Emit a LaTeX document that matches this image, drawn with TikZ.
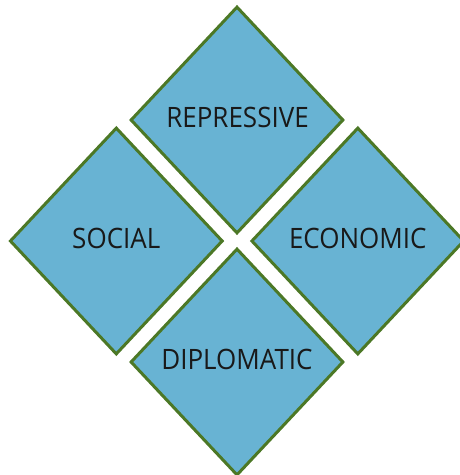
\documentclass[tikz,border=0pt]{standalone}
\usepackage{fontspec}
\setmainfont{Open Sans}
\usetikzlibrary{shapes.geometric}
\definecolor{dfill}{RGB}{104,179,211}
\definecolor{dline}{RGB}{76,120,38}
\newcommand{\tallcaps}[1]{\scalebox{1}[1.08]{#1}}
\begin{document}
\begin{tikzpicture}[x=1pt,y=-1pt,
  dia/.style={diamond, draw=dline, fill=dfill, line width=3pt,
    minimum width=213pt, minimum height=227pt, inner sep=0pt},
  lbl/.style={font=\fontsize{26}{30}\selectfont, inner sep=0pt, text=black!90}]
\useasboundingbox (0,0) rectangle (460,475);
\clip (0,0) rectangle (460,475);
\node[dia] (rep) at (237,120) {};
\node[dia] (soc) at (116.3,241) {};
\node[dia] (eco) at (357.8,241) {};
\node[dia] (dip) at (237,362) {};
\node[lbl] (reptext) at (237.5,117.3) {\tallcaps{REPRESSIVE}};
\node[lbl] (soctext) at (116.3,238) {\tallcaps{SOCIAL}};
\node[lbl] (ecotext) at (357.8,238) {\tallcaps{ECONOMIC}};
\node[lbl] (diptext) at (237,359) {\tallcaps{DIPLOMATIC}};
\end{tikzpicture}
\end{document}
